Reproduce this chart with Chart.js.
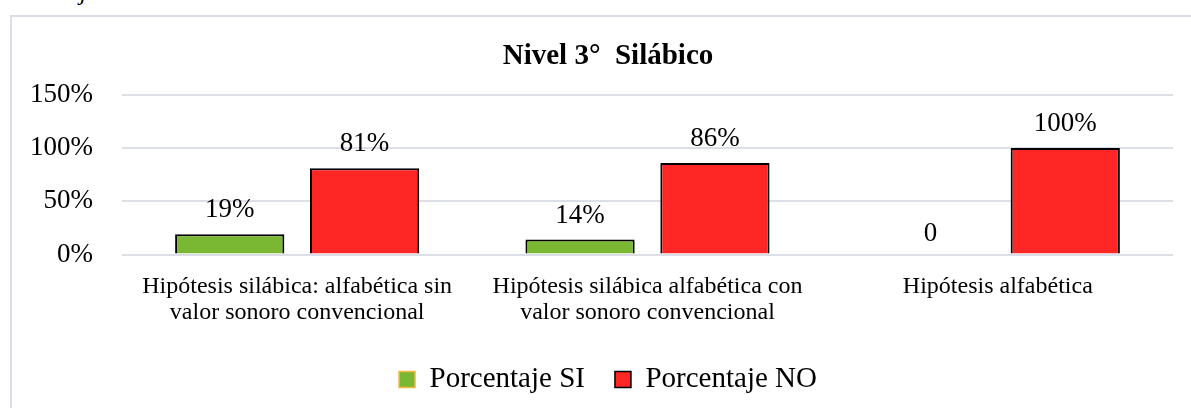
<!DOCTYPE html>
<html>
<head>
<meta charset="utf-8">
<script src="https://cdn.jsdelivr.net/npm/chart.js@4.4.1/dist/chart.umd.min.js"></script>
<style>
  html, body { margin: 0; padding: 0; background: #fff; overflow: hidden; width: 1191px; height: 408px; }
  #pie { position: absolute; left: 80px; top: -20px; font: italic 24px 'Liberation Serif'; line-height: 24px; color: #000; }
  #marco { position: absolute; left: 10px; top: 15px; border-left: 2px solid #D9DEE8; border-top: 2px solid #D9DEE8; width: 1192px; height: 392px; }
</style>
</head>
<body>
<div id="pie">j</div>
<div id="marco"><canvas id="graficoBarra" width="1192" height="392"></canvas></div>
<script>
const categorias = [
  ['Hipótesis silábica: alfabética sin', 'valor sonoro convencional'],
  ['Hipótesis silábica alfabética con', 'valor sonoro convencional'],
  ['Hipótesis alfabética']
];
const porcentajeSi = [19, 14, 0];
const porcentajeNo = [81, 86, 100];
const ticksY = [0, 50, 100, 150];

const fuente = 'Liberation Serif';

// etiquetas de datos encima de cada barra
const etiquetas = {
  id: 'etiquetas',
  afterDatasetsDraw(chart) {
    const ctx = chart.ctx;
    ctx.save();
    ctx.font = '27px "' + fuente + '"';
    ctx.fillStyle = '#000';
    ctx.textAlign = 'center';
    ctx.textBaseline = 'alphabetic';
    chart.data.datasets.forEach((ds, i) => {
      chart.getDatasetMeta(i).data.forEach((bar, j) => {
        const v = ds.data[j];
        ctx.fillText(v === 0 ? '0' : v + '%', bar.x, bar.y - (v === 0 ? 14 : 17));
      });
    });
    ctx.restore();
  }
};

new Chart(document.getElementById('graficoBarra'), {
  type: 'bar',
  data: {
    labels: categorias,
    datasets: [{
      label: 'Porcentaje SI',
      data: porcentajeSi,
      backgroundColor: '#7AB733',
      borderColor: '#000',
      borderWidth: 2,
      categoryPercentage: 0.77,
      barPercentage: 0.81
    },
    {
      label: 'Porcentaje NO',
      data: porcentajeNo,
      backgroundColor: '#FF2626',
      borderColor: '#000',
      borderWidth: 2,
      categoryPercentage: 0.77,
      barPercentage: 0.81
    }]
  },
  options: {
    responsive: false,
    animation: false,
    layout: { padding: { left: 18, right: 18, top: 0, bottom: 5 } },
    plugins: {
      title: {
        display: true,
        text: 'Nivel 3°  Silábico',
        color: '#000',
        font: { family: fuente, size: 29, weight: 'bold' },
        padding: { top: 22, bottom: 21 }
      },
      legend: {
        position: 'bottom',
        labels: {
          color: '#000',
          font: { family: fuente, size: 29 },
          boxWidth: 16,
          boxHeight: 16,
          padding: 30,
          generateLabels(chart) {
            const items = Chart.defaults.plugins.legend.labels.generateLabels(chart);
            items[0].strokeStyle = '#F4B942';
            items.forEach(it => { it.lineWidth = 1.5; });
            return items;
          }
        }
      },
      tooltip: { enabled: false }
    },
    scales: {
      x: {
        grid: { display: false },
        border: { display: false },
        ticks: {
          color: '#000',
          font: { family: fuente, size: 24, lineHeight: 1.08 },
          padding: 11,
          maxRotation: 0,
          autoSkip: false
        },
        afterFit(s) {
          s.height = 80.5;
          s.paddingLeft = 0;
          s.paddingRight = 0;
        }
      },
      y: {
        min: 0,
        max: 150,
        afterBuildTicks(s) { s.ticks = ticksY.map(v => ({ value: v })); },
        afterFit(s) { s.width = 92; },
        ticks: {
          color: '#000',
          font: { family: fuente, size: 27 },
          padding: 29,
          callback: v => v + '%'
        },
        grid: { color: '#DCDFE6', lineWidth: 2, drawTicks: false },
        border: { display: false }
      },
      // eje vacío a la derecha: solo reserva espacio
      margen: {
        type: 'linear',
        position: 'right',
        grid: { display: false },
        border: { display: false },
        ticks: { display: false },
        afterFit(s) { s.width = 13; }
      }
    }
  },
  plugins: [etiquetas]
});
</script>
</body>
</html>
